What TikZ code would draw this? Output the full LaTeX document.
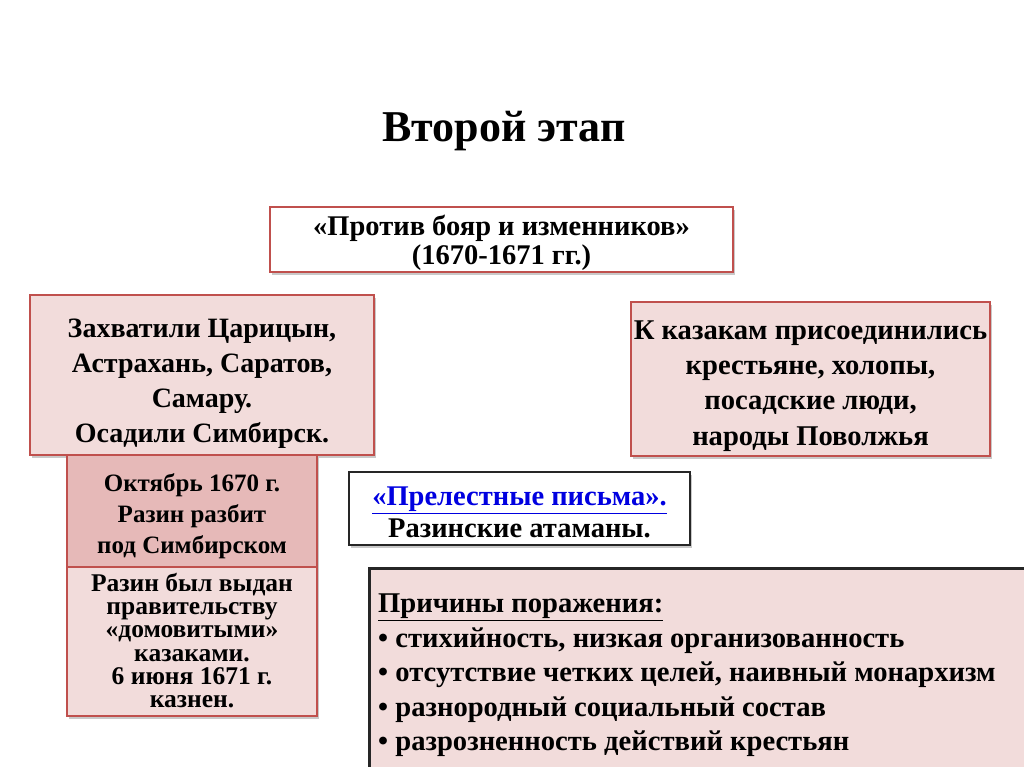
\documentclass[tikz,border=0pt]{standalone}
\usepackage{fontspec}
\setmainfont{Liberation Serif}
\usetikzlibrary{shadows}
\definecolor{bordred}{HTML}{C0504D}
\definecolor{pinkfill}{HTML}{F2DCDB}
\definecolor{darkpink}{HTML}{E6B9B8}
\definecolor{linkblue}{HTML}{0000E0}
\begin{document}
\begin{tikzpicture}[x=1pt,y=1pt,
  shd/.style={drop shadow={shadow xshift=2pt,shadow yshift=-3pt,fill=black!35,opacity=0.6}},
  redbox/.style={draw=bordred,line width=2pt,shd,inner sep=0pt},
  blackbox/.style={draw=black!85,line width=2.6pt,shd,inner sep=0pt},
  txt/.style={inner sep=0pt,align=center,font=\bfseries}]
\useasboundingbox (0,0) rectangle (1024,-767);
\fill[white] (0,0) rectangle (1024,-767);
\node[txt,font=\bfseries\fontsize{44}{50}\selectfont] (title) at (504,-131) {Второй этап};
% box 1
\node[redbox,fill=white,minimum width=463pt,minimum height=65pt] (b1) at (501.5,-239.5) {};
\node[txt,font=\bfseries\fontsize{28.5}{29}\selectfont] (t1) at ([yshift=-3.5pt]b1.center)
  {«Против бояр и изменников»\\(1670-1671 гг.)};
% box 2
\node[redbox,fill=pinkfill,minimum width=344pt,minimum height=160pt] (b2) at (202,-375) {};
\node[txt,font=\bfseries\fontsize{28}{35}\selectfont] (t2) at ([yshift=-9pt]b2.center)
  {Захватили Царицын,\\Астрахань, Саратов,\\Самару.\\Осадили Симбирск.};
% box 3
\node[redbox,fill=pinkfill,minimum width=359pt,minimum height=154pt] (b3) at (810.5,-379) {};
\node[txt,font=\bfseries\fontsize{28.6}{35.3}\selectfont] (t3) at ([yshift=-7pt]b3.center)
  {К казакам присоединились\\крестьяне, холопы,\\посадские люди,\\народы Поволжья};
% box 4
\node[redbox,fill=darkpink,line width=1.2pt,minimum width=250pt,minimum height=112pt] (b4) at (192,-511) {};
\node[txt,font=\bfseries\fontsize{25}{31}\selectfont] (t4) at ([yshift=-5pt]b4.center)
  {Октябрь 1670 г.\\Разин разбит\\под Симбирском};
% box 5
\node[redbox,fill=pinkfill,line width=1.2pt,minimum width=250pt,minimum height=149pt] (b5) at (192,-641.5) {};
\node[txt,font=\bfseries\fontsize{25.5}{23.3}\selectfont] (t5) at ([yshift=1pt]b5.center)
  {Разин был выдан\\правительству\\«домовитыми»\\казаками.\\6 июня 1671 г.\\казнен.};
% box 6
\node[blackbox,fill=white,minimum width=341pt,minimum height=73pt] (b6) at (519.5,-508.5) {};
\node[txt,font=\bfseries\fontsize{28.5}{32}\selectfont] (t6) at ([yshift=-4pt]b6.center)
  {\textcolor{linkblue}{\underline{«Прелестные письма».}}\\Разинские атаманы.};
% box 7
\node[blackbox,fill=pinkfill,anchor=north west,minimum width=660pt,minimum height=206pt] (b7) at (368,-567) {};
\node[txt,anchor=north west,align=left,font=\bfseries\fontsize{28.6}{34.4}\selectfont] (t7) at ([xshift=10pt,yshift=-27pt]b7.north west)
  {\underline{Причины поражения:}\\
   • стихийность, низкая организованность\\
   • отсутствие четких целей, наивный монархизм\\
   • разнородный социальный состав\\
   • разрозненность действий крестьян};
\end{tikzpicture}
\end{document}
